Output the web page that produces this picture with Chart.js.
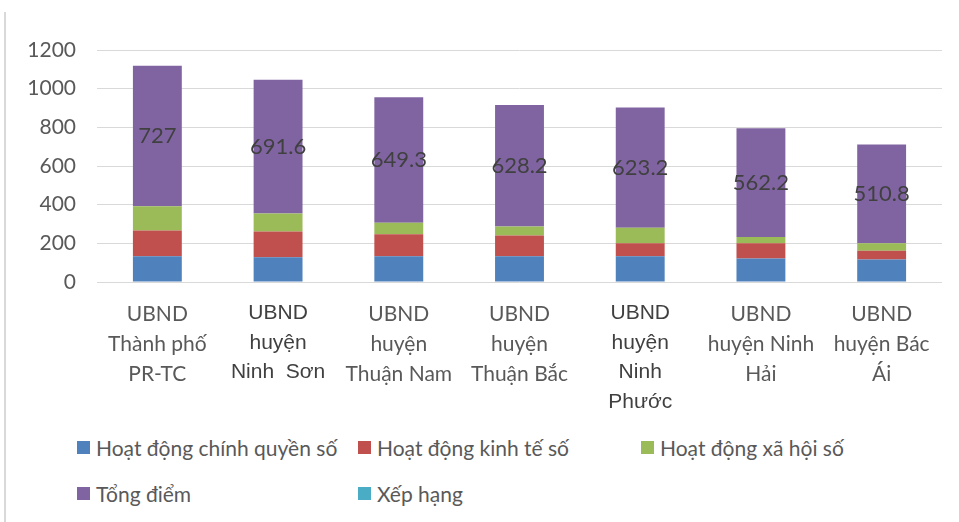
<!DOCTYPE html>
<html><head><meta charset="utf-8">
<script src="https://cdn.jsdelivr.net/npm/chart.js@4"></script>
<style>
body{margin:0;background:#fff;width:959px;height:522px;overflow:hidden;position:relative;font-family:Lato,sans-serif}
#frame{position:absolute;left:4px;top:12px;width:2px;height:510px;background:#d9d9d9}
#c{position:absolute;left:0;top:0}
.leg{position:absolute;display:flex;align-items:center;font:21px Lato,sans-serif;color:#595959;white-space:nowrap;height:24px}
.leg .sw{width:13px;height:13px;margin-right:6px;display:inline-block}
</style></head><body>
<div id="frame"></div>
<canvas id="c" width="959" height="430"></canvas>
<div id="legend"></div>
<script>
const categories = [
  ["UBND","Thành phố","PR-TC"],
  ["UBND","huyện","Ninh  Sơn"],
  ["UBND","huyện","Thuận Nam"],
  ["UBND","huyện","Thuận Bắc"],
  ["UBND","huyện","Ninh","Phước"],
  ["UBND","huyện Ninh","Hải"],
  ["UBND","huyện Bác","Ái"]
];
const seriesNames = ["Hoạt động chính quyền số","Hoạt động kinh tế số","Hoạt động xã hội số","Tổng điểm","Xếp hạng"];
const chinhQuyenSo = [133,128,133,133,133,121,116];
const kinhTeSo = [134,133,114,107,67,79,45];
const xaHoiSo = [125,93,59,47,80,33,40];
const tongDiem = [727,691.6,649.3,628.2,623.2,562.2,510.8];
const xepHang = [1,2,3,4,5,6,7];
const yTicks = [0,200,400,600,800,1000,1200];

const colors = ["#4f81bd","#c0504d","#9bbb59","#8064a2","#4bacc6"];
const seriesData = [chinhQuyenSo,kinhTeSo,xaHoiSo,tongDiem,xepHang];
const boldIdx = [1,4];

const labelPlugin = {
  id:'lbl',
  afterDatasetsDraw(chart){
    const meta = chart.getDatasetMeta(3);
    const ctx = chart.ctx;
    ctx.save();
    ctx.font = '22px Lato, sans-serif';
    ctx.fillStyle = '#404040';
    ctx.textAlign = 'center';
    ctx.textBaseline = 'middle';
    meta.data.forEach((el,i)=>{
      ctx.fillText(String(tongDiem[i]), el.x, (el.y+el.base)/2);
    });
    ctx.restore();
  }
};

const chart = new Chart(document.getElementById('c'), {
  type:'bar',
  data:{
    labels:categories,
    datasets:seriesNames.map((n,i)=>({
      label:n, data:seriesData[i], backgroundColor:colors[i],
      categoryPercentage:1, barPercentage:0.405, borderWidth:0,
      hidden: i===4
    }))
  },
  options:{
    responsive:false, devicePixelRatio:1, animation:false,
    layout:{padding:{left:0,top:50,right:17,bottom:0}},
    plugins:{legend:{display:false},tooltip:{enabled:false}},
    scales:{
      x:{
        stacked:true,
        grid:{display:false,drawTicks:false},
        border:{display:false},
        ticks:{
          autoSkip:false,maxRotation:0,minRotation:0,padding:17,
          color:(c)=>boldIdx.includes(c.index)?'#404040':'#595959',
          font:(c)=>boldIdx.includes(c.index)
            ?{family:'Liberation Sans, Arial, sans-serif',size:21,lineHeight:1.4}
            :{family:'Lato, sans-serif',size:21,lineHeight:1.43}
        },
        afterFit:(s)=>{s.height=148;}
      },
      y:{
        stacked:true,min:0,max:1200,
        afterBuildTicks:(s)=>{s.ticks=yTicks.map(v=>({value:v}));},
        grid:{color:'#d9d9d9',drawTicks:false,lineWidth:1},
        border:{display:false},
        ticks:{color:'#595959',font:{family:'Lato, sans-serif',size:21},padding:21,
          callback:(v)=>String(v)},
        afterFit:(s)=>{s.width=97;}
      }
    }
  },
  plugins:[labelPlugin]
});

const legPos = [[77,435],[358,435],[641,435],[77,481],[358,481]];
const legEl = document.getElementById('legend');
chart.data.datasets.forEach((ds,i)=>{
  const d = document.createElement('div');
  d.className='leg';
  d.style.left=legPos[i][0]+'px';
  d.style.top=legPos[i][1]+'px';
  const sw=document.createElement('span');
  sw.className='sw'; sw.style.background=ds.backgroundColor;
  const t=document.createElement('span');
  t.textContent=ds.label;
  d.appendChild(sw); d.appendChild(t);
  legEl.appendChild(d);
});
</script>
</body></html>
